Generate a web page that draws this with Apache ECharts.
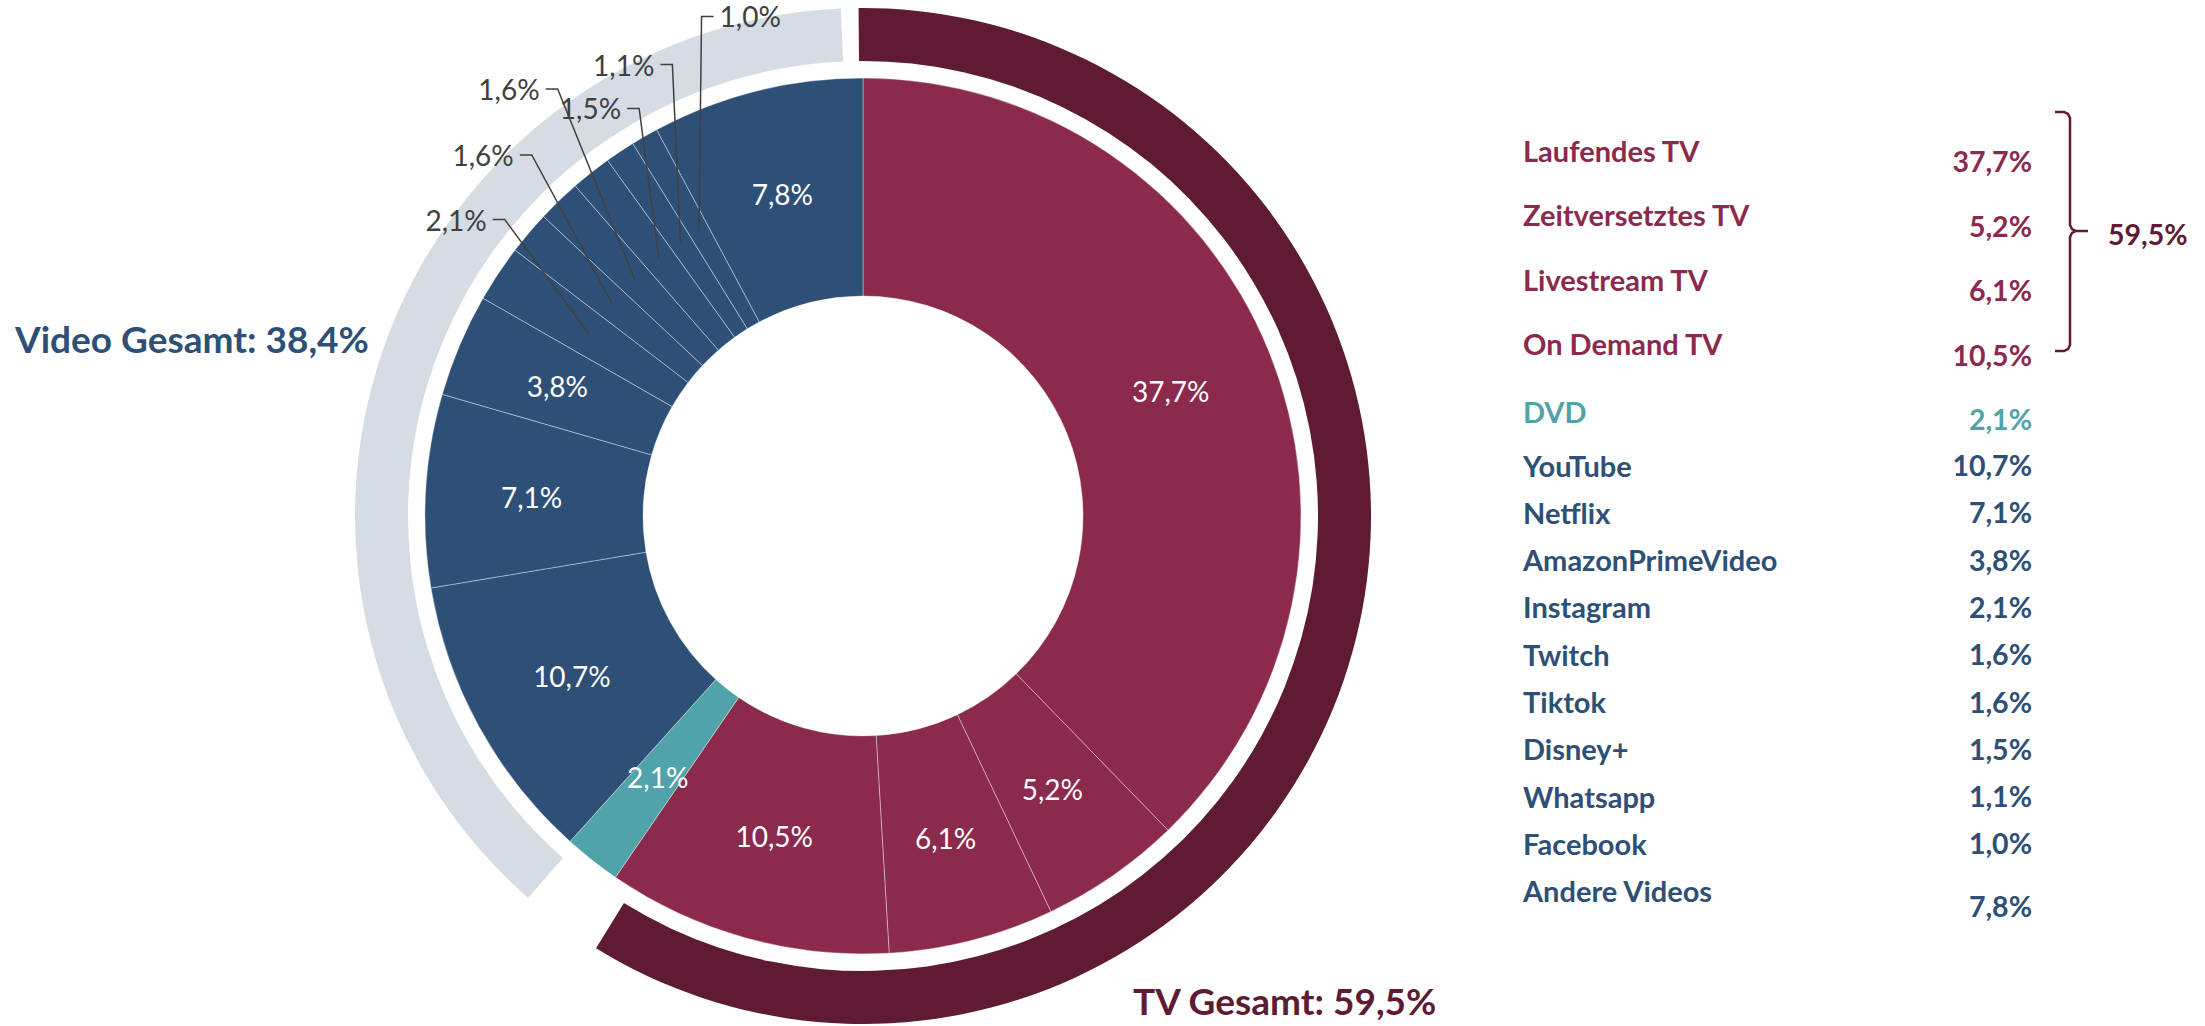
<!DOCTYPE html>
<html><head><meta charset="utf-8">
<script src="https://cdn.jsdelivr.net/npm/echarts@6/dist/echarts.min.js"></script>
<style>html,body{margin:0;padding:0;background:#fff}#c{width:2205px;height:1026px}</style>
</head><body><div id="c"></div>
<script>
// ---- data ----
const categories = ['Laufendes TV','Zeitversetztes TV','Livestream TV','On Demand TV','DVD','YouTube','Netflix','AmazonPrimeVideo','Instagram','Twitch','Tiktok','Disney+','Whatsapp','Facebook','Andere Videos'];
const shares = [37.7, 5.2, 6.1, 10.5, 2.1, 10.7, 7.1, 3.8, 2.1, 1.6, 1.6, 1.5, 1.1, 1.0, 7.8];
const groups = ['tv','tv','tv','tv','dvd','video','video','video','video','video','video','video','video','video','video'];
const outsideLabelled = ['Instagram','Twitch','Tiktok','Disney+','Whatsapp','Facebook'];
const groupNames = ['TV Gesamt', 'Video Gesamt'];
const groupTotals = [59.5, 38.4];

// ---- style ----
const FONT = 'Lato, "Open Sans", sans-serif';
const sliceColor = { tv: '#8B2A4D', dvd: '#4FA3A9', video: '#2E5077' };
const ringColor = { tv: '#5E1B33', video: '#D5DCE4' };
const textColor = { tv: '#8B2A4D', dvd: '#4FA3A9', video: '#2E5077' };
const CENTER = [863, 516];
const LABEL_R = 329;
const fmt = v => v.toFixed(1).replace('.', ',') + '%';

const mainData = categories.map((name, i) => ({
  name, value: shares[i],
  itemStyle: { color: sliceColor[groups[i]] },
  label: { show: !outsideLabelled.includes(name) }
}));
const overlayData = categories.map((name, i) => {
  const out = outsideLabelled.includes(name);
  return { name, value: shares[i], label: { show: out }, labelLine: { show: out } };
});
const dvdShare = shares[groups.indexOf('dvd')];
const ringData = [
  { name: groupNames[0], value: groupTotals[0], itemStyle: { color: ringColor.tv } },
  { name: 'gap', value: dvdShare, itemStyle: { color: 'rgba(0,0,0,0)' } },
  { name: groupNames[1], value: groupTotals[1], itemStyle: { color: ringColor.video } }
];

// fan-out layout for the small outside labels
const sumShares = shares.reduce((a, b) => a + b, 0);
const polar = (deg, r) => [CENTER[0] + r * Math.sin(deg * Math.PI / 180), CENTER[1] - r * Math.cos(deg * Math.PI / 180)];
function fanLabel(p) {
  const k = outsideLabelled.indexOf(categories[p.dataIndex]);
  if (k < 0) return {};
  let before = 0;
  for (let i = 0; i < p.dataIndex; i++) before += shares[i];
  const mid = (before + shares[p.dataIndex] / 2) / sumShares * 360;
  const start = polar(mid, LABEL_R);
  const elbowAngle = mid + 6 + 1.2 * k;
  const elbow = polar(elbowAngle, [465, 490, 525][k % 3]);
  const right = elbowAngle > 340;
  const end = [elbow[0] + (right ? 12 : -12), elbow[1]];
  return {
    x: end[0] + (right ? 6 : -6), y: end[1],
    align: right ? 'left' : 'right', verticalAlign: 'middle',
    labelLinePoints: [start, elbow, end]
  };
}

// ---- right-hand table ----
const graphics = [];
let tvK = 0, vidK = 0;
categories.forEach((name, i) => {
  const g = groups[i];
  let y, dy;
  if (g === 'tv') { y = 150 + tvK * 64.5; dy = 11; tvK++; }
  else if (g === 'dvd') { y = 411; dy = 8; }
  else { y = 465 + vidK * 47.3; dy = (i === categories.length - 1) ? 15 : 0; vidK++; }
  graphics.push({ type: 'text', silent: true, style: { text: name, x: 1523, y: y, font: 'bold 29px ' + FONT, fill: textColor[g], align: 'left', verticalAlign: 'middle' } });
  graphics.push({ type: 'text', silent: true, style: { text: fmt(shares[i]), x: 2032, y: y + dy, font: 'bold 28.5px ' + FONT, fill: textColor[g], align: 'right', verticalAlign: 'middle' } });
});
// bracket for TV group
const bracketStyle = { fill: 'none', stroke: ringColor.tv, lineWidth: 2.5 };
graphics.push({ type: 'polyline', silent: true, shape: { points: [[2055,112],[2064,112],[2068,114],[2070,118],[2070,225],[2072,229],[2076,231],[2088,231]] }, style: bracketStyle });
graphics.push({ type: 'polyline', silent: true, shape: { points: [[2076,231],[2072,233],[2070,237],[2070,345],[2068,349],[2064,351],[2055,351]] }, style: bracketStyle });
graphics.push({ type: 'text', silent: true, style: { text: fmt(groupTotals[0]), x: 2108, y: 234, font: 'bold 28.5px ' + FONT, fill: ringColor.tv, align: 'left', verticalAlign: 'middle' } });
// group totals
graphics.push({ type: 'text', silent: true, style: { text: groupNames[1] + ': ' + fmt(groupTotals[1]), x: 15, y: 338, font: 'bold 37px ' + FONT, fill: textColor.video, align: 'left', verticalAlign: 'middle' } });
graphics.push({ type: 'text', silent: true, style: { text: groupNames[0] + ': ' + fmt(groupTotals[0]), x: 1133, y: 1000, font: 'bold 37px ' + FONT, fill: ringColor.tv, align: 'left', verticalAlign: 'middle' } });

const chart = echarts.init(document.getElementById('c'), null, { renderer: 'svg' });
chart.setOption({
  animation: false,
  backgroundColor: '#fff',
  textStyle: { fontFamily: FONT },
  series: [
    {
      type: 'pie', name: 'ring', silent: true, center: CENTER, radius: [455, 508],
      startAngle: 91.5, clockwise: true, padAngle: 2,
      label: { show: false }, labelLine: { show: false }, emphasis: { disabled: true },
      data: ringData
    },
    {
      type: 'pie', name: 'main', silent: true, center: CENTER, radius: [220, 438],
      startAngle: 90, clockwise: true, avoidLabelOverlap: false,
      itemStyle: { borderColor: 'rgba(255,255,255,0.55)', borderWidth: 0.7 },
      label: { position: 'inside', color: '#fff', fontSize: 28, fontFamily: FONT, formatter: p => fmt(p.value) },
      labelLine: { show: false }, emphasis: { disabled: true },
      data: mainData
    },
    {
      type: 'pie', name: 'labels', silent: true, center: CENTER, radius: [220, LABEL_R],
      startAngle: 90, clockwise: true, avoidLabelOverlap: false, z: 5,
      itemStyle: { color: 'rgba(0,0,0,0)', borderWidth: 0 },
      label: { position: 'outside', color: '#404040', fontSize: 28, fontFamily: FONT, formatter: p => fmt(p.value) },
      labelLine: { length: 150, length2: 12, smooth: false, lineStyle: { color: '#404040', width: 1.5 } },
      labelLayout: fanLabel,
      emphasis: { disabled: true },
      data: overlayData
    }
  ],
  graphic: graphics
});
</script></body></html>
